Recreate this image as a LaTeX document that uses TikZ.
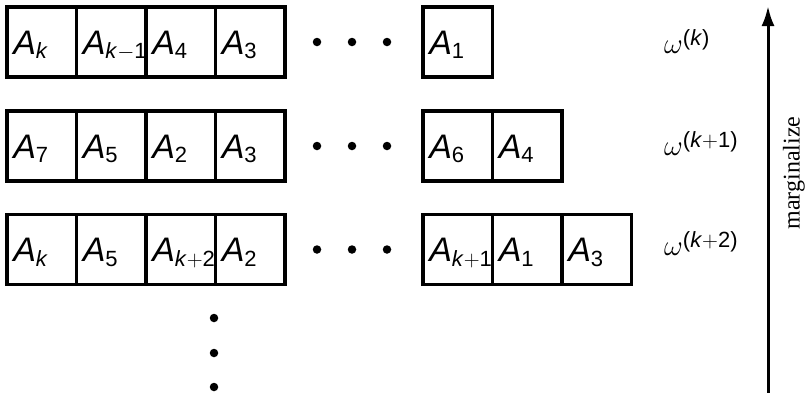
\RequirePackage{fix-cm}
\documentclass[tikz,border=0pt]{standalone}
\usepackage{fontspec}
\setmainfont{Liberation Serif}
\setsansfont{Liberation Sans}
\usetikzlibrary{arrows.meta}
\newcommand{\Ab}[1]{\textit{A}\raisebox{-4.5pt}{\fontsize{22pt}{22pt}\selectfont #1}}
\newcommand{\Om}[1]{$\omega$\raisebox{8pt}{\sffamily\fontsize{22pt}{22pt}\selectfont (#1)}}
\begin{document}
\begin{tikzpicture}[x=1pt,y=-1pt,
  cell/.style={draw,line width=3.2pt,minimum width=69.5pt,minimum height=70pt,inner xsep=0pt,inner ysep=0pt,
    text width=57pt,align=left,text height=24pt,text depth=0pt,
    font=\sffamily\fontsize{34pt}{34pt}\selectfont},
  bigdot/.style={circle,fill=black,inner sep=0pt,minimum size=8.5pt},
  omlab/.style={anchor=base west,inner sep=0pt,font=\fontsize{29pt}{29pt}\selectfont},
  arrowline/.style={line width=3pt,-{Latex[length=20pt,width=13pt]}}]
\useasboundingbox (0,0) rectangle (808,392);
% row 1
\node[cell] (r1a) at (41.75,42) {\Ab{\textit{k}}};
\node[cell] (r1b) at (111.25,42) {\Ab{\textit{k}$-$1}};
\node[cell] (r1c) at (180.75,42) {\Ab{4}};
\node[cell] (r1d) at (250.25,42) {\Ab{3}};
\node[bigdot] (r1e) at (317,42) {};
\node[bigdot] (r1f) at (352,42) {};
\node[bigdot] (r1g) at (387,42) {};
\node[cell] (r1h) at (457.75,42) {\Ab{1}};
\node[omlab] (om1) at (664,53) {\Om{\textit{k}}};
% row 2
\node[cell] (r2a) at (41.75,146) {\Ab{7}};
\node[cell] (r2b) at (111.25,146) {\Ab{5}};
\node[cell] (r2c) at (180.75,146) {\Ab{2}};
\node[cell] (r2d) at (250.25,146) {\Ab{3}};
\node[bigdot] (r2e) at (317,146) {};
\node[bigdot] (r2f) at (352,146) {};
\node[bigdot] (r2g) at (387,146) {};
\node[cell] (r2h) at (457.75,146) {\Ab{6}};
\node[cell] (r2i) at (527.25,146) {\Ab{4}};
\node[omlab] (om2) at (664,155) {\Om{\textit{k}$+$1}};
% row 3
\node[cell] (r3a) at (41.75,249.5) {\Ab{\textit{k}}};
\node[cell] (r3b) at (111.25,249.5) {\Ab{5}};
\node[cell] (r3c) at (180.75,249.5) {\Ab{\textit{k}$+$2}};
\node[cell] (r3d) at (250.25,249.5) {\Ab{2}};
\node[bigdot] (r3e) at (317,249.5) {};
\node[bigdot] (r3f) at (352,249.5) {};
\node[bigdot] (r3g) at (387,249.5) {};
\node[cell] (r3h) at (457.75,249.5) {\Ab{\textit{k}$+$1}};
\node[cell] (r3i) at (527.25,249.5) {\Ab{1}};
\node[cell] (r3j) at (596.75,249.5) {\Ab{3}};
\node[omlab] (om3) at (664,255) {\Om{\textit{k}$+$2}};
% vertical dots
\node[bigdot] (v1) at (214,318) {};
\node[bigdot] (v2) at (214,353) {};
\node[bigdot] (v3) at (214,387) {};
% arrow
\coordinate (ab) at (768,393);
\coordinate (at) at (768,6);
\draw[arrowline] (ab) -- (at);
\node[rotate=90,inner sep=0pt,font=\fontsize{24pt}{24pt}\selectfont] (marg) at (794,173) {marginalize};
\end{tikzpicture}
\end{document}
